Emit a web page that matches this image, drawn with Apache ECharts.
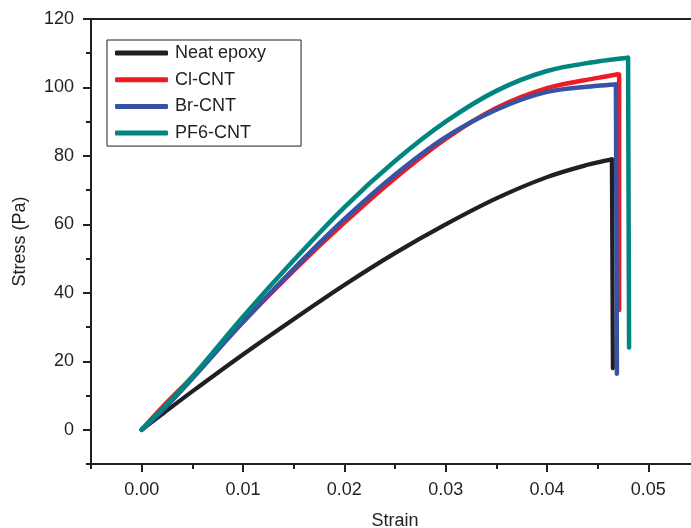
<!DOCTYPE html>
<html>
<head>
<meta charset="utf-8">
<script src="https://cdn.jsdelivr.net/npm/echarts@6/dist/echarts.min.js"></script>
<style>
html,body{margin:0;padding:0;background:#fff;}
#chart{width:691px;height:528px;}
</style>
</head>
<body>
<div id="chart"></div>
<script>
// ---- data ----
const seriesNames = ['Neat epoxy', 'Cl-CNT', 'Br-CNT', 'PF6-CNT'];

// rising (loading) part of each curve
const neatStrain = [0, 0.002, 0.005, 0.01, 0.015, 0.02, 0.025, 0.03, 0.035, 0.04, 0.044, 0.0464];
const neatStress = [0, 4.5, 11.2, 22, 32.3, 42.3, 51.6, 60, 67.6, 73.8, 77.4, 79];
const clStrain = [0, 0.002, 0.005, 0.01, 0.015, 0.02, 0.025, 0.03, 0.035, 0.04, 0.045, 0.0469];
const clStress = [0, 6.5, 15.5, 31.5, 46.5, 60.5, 73.5, 85, 94, 99.8, 102.8, 103.8];
const brStrain = [0, 0.002, 0.005, 0.01, 0.015, 0.02, 0.025, 0.03, 0.035, 0.04, 0.045, 0.0468];
const brStress = [0, 5.5, 15, 31.5, 47, 61.5, 74.5, 85.5, 93.5, 98.7, 100.5, 100.9];
const pfStrain = [0, 0.002, 0.005, 0.01, 0.015, 0.02, 0.025, 0.03, 0.035, 0.04, 0.045, 0.048];
const pfStress = [0, 6, 15.5, 33, 49.5, 65, 78.5, 90, 99, 104.8, 107.6, 108.7];

// fracture (drop) part of each curve
const neatDropStrain = [0.0464, 0.0465];
const neatDropStress = [79, 18];
const clDropStrain = [0.0469, 0.04712, 0.04712];
const clDropStress = [103.8, 103.8, 35];
const brDropStrain = [0.0468, 0.0469];
const brDropStress = [100.9, 16.4];
const pfDropStrain = [0.048, 0.0481];
const pfDropStress = [108.7, 24];

const xTickLabels = [0, 0.01, 0.02, 0.03, 0.04, 0.05];
const xMinorTicks = [-0.005, 0.005, 0.015, 0.025, 0.035, 0.045];
const yTickLabels = [0, 20, 40, 60, 80, 100, 120];
const yMinorTicks = [-10, 10, 30, 50, 70, 90, 110];

const colors = ['#231f20', '#ed1c24', '#3953a4', '#00857f'];

// ---- build ----
function pairs(xs, ys) { return xs.map((x, i) => [x, ys[i]]); }
const riseSets = [
  pairs(neatStrain, neatStress),
  pairs(clStrain, clStress),
  pairs(brStrain, brStress),
  pairs(pfStrain, pfStress)
];
const dropSets = [
  pairs(neatDropStrain, neatDropStress),
  pairs(clDropStrain, clDropStress),
  pairs(brDropStrain, brDropStress),
  pairs(pfDropStrain, pfDropStress)
];

const FONT = '"Liberation Sans", Arial, Helvetica, sans-serif';
const INK = '#231f20';

const chart = echarts.init(document.getElementById('chart'), null, {renderer: 'canvas'});

const axisLineStyle = {color: INK, width: 2};

const series = [];
seriesNames.forEach((name, i) => {
  const ls = {color: colors[i], width: i === 0 ? 4.2 : 4.5, cap: 'round', join: 'round'};
  series.push({
    name: name, type: 'line', data: riseSets[i],
    symbol: 'none', showSymbol: false, smooth: 0.35,
    color: colors[i], lineStyle: ls, z: 2 + i
  });
  series.push({
    name: name, type: 'line', data: dropSets[i],
    symbol: 'none', showSymbol: false, smooth: false,
    color: colors[i], lineStyle: ls, z: 2 + i
  });
});

chart.setOption({
  animation: false,
  backgroundColor: '#fff',
  textStyle: {fontFamily: FONT, color: INK},
  grid: {
    left: 91, top: 19, width: 608, height: 445,
    outerBoundsMode: 'none', containLabel: false,
    show: true, borderColor: INK, borderWidth: 2, backgroundColor: 'transparent'
  },
  legend: {
    data: seriesNames,
    orient: 'vertical',
    left: 107, top: 40,
    padding: [3, 35, 3, 8],
    itemWidth: 53, itemHeight: 5, itemGap: 6.7,
    icon: 'roundRect',
    backgroundColor: '#fff',
    borderColor: INK, borderWidth: 1, borderRadius: 0,
    textStyle: {fontFamily: FONT, fontSize: 18, color: INK, lineHeight: 20, padding: [0, 0, 0, 2]}
  },
  xAxis: [{
    type: 'value', min: -0.005, max: 0.055,
    name: 'Strain', nameLocation: 'middle', nameGap: 48,
    nameTextStyle: {fontFamily: FONT, fontSize: 18, color: INK},
    axisLine: {show: true, onZero: false, lineStyle: axisLineStyle},
    axisTick: {show: true, inside: false, length: 8, lineStyle: {color: INK, width: 2}, customValues: xTickLabels},
    axisLabel: {show: true, margin: 17, fontFamily: FONT, fontSize: 18, color: INK,
      customValues: xTickLabels, formatter: v => v.toFixed(2)},
    splitLine: {show: false}
  }, {
    type: 'value', min: -0.005, max: 0.055, position: 'bottom',
    axisLine: {show: false, onZero: false},
    axisTick: {show: true, inside: false, length: 5, lineStyle: {color: INK, width: 2}, customValues: xMinorTicks},
    axisLabel: {show: false},
    splitLine: {show: false}
  }],
  yAxis: [{
    type: 'value', min: -10, max: 120,
    name: 'Stress (Pa)', nameLocation: 'middle', nameGap: 62,
    nameTextStyle: {fontFamily: FONT, fontSize: 18, color: INK},
    axisLine: {show: true, onZero: false, lineStyle: axisLineStyle},
    axisTick: {show: true, inside: false, length: 8, lineStyle: {color: INK, width: 2}, customValues: yTickLabels},
    axisLabel: {show: true, margin: 17, fontFamily: FONT, fontSize: 18, color: INK, customValues: yTickLabels},
    splitLine: {show: false}
  }, {
    type: 'value', min: -10, max: 120, position: 'left',
    axisLine: {show: false, onZero: false},
    axisTick: {show: true, inside: false, length: 5, lineStyle: {color: INK, width: 2}, customValues: yMinorTicks},
    axisLabel: {show: false},
    splitLine: {show: false}
  }],
  series: series
});
</script>
</body>
</html>
